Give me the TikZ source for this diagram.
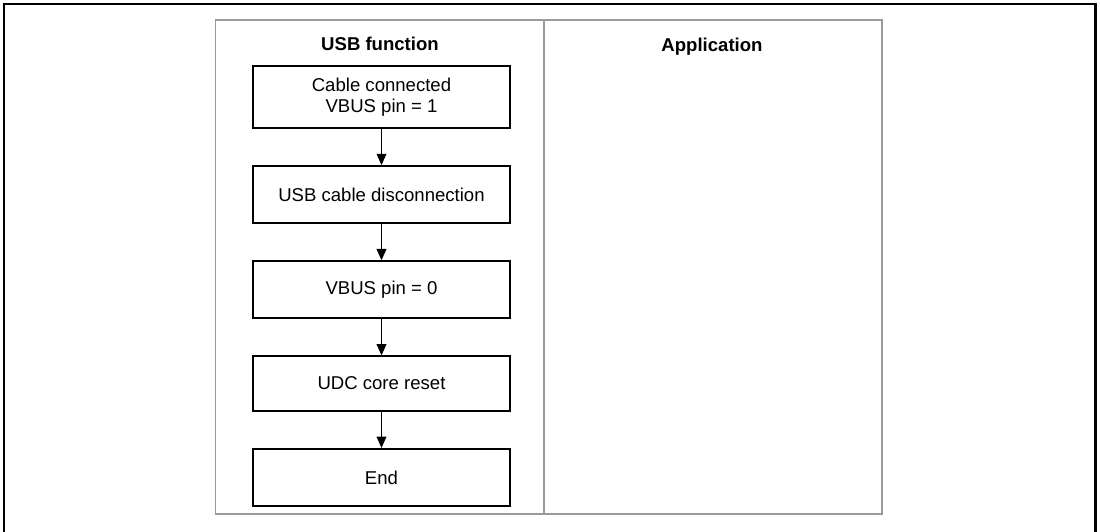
\documentclass[tikz,border=0pt]{standalone}
\usepackage{fontspec}
\setmainfont{Liberation Sans}
\usepackage{xcolor}
\usetikzlibrary{arrows.meta,positioning}

\definecolor{lanegray}{HTML}{9A9A9A}

\begin{document}
\begin{tikzpicture}[
  x=0.025cm, y=-0.025cm,
  node distance=0.9cm and 1cm,
  stepbox/.style={rectangle, draw=black, line width=1.5pt,
              minimum width=6.42cm, minimum height=1.425cm,
              text centered, align=center,
              font=\fontsize{13.2}{15}\selectfont},
  lane/.style={draw=lanegray, line width=1.4pt},
  title/.style={font=\fontsize{13.2}{15}\selectfont\bfseries},
  arr/.style={-{Triangle[length=8pt, width=7pt]}, line width=0.7pt}
]
\useasboundingbox (0,0) rectangle (1100,532);
% outer frame
\draw[line width=1.5pt] (4,532) -- (4,4) -- (1095.5,4) -- (1095.5,532);

% swimlanes
\draw[lane] (215.5,20) rectangle (882,514);
\draw[lane] (544,20) -- (544,514);
\node[title] (usbhead) at (380,44) {USB function};
\node[title] (apphead) at (712,47) {Application};

% flow
\node[stepbox, minimum height=1.55cm] (connected) at (381.5,97)
      {Cable connected\\VBUS pin = 1};
\node[stepbox, below=of connected] (disconnect) {USB cable disconnection};
\node[stepbox, below=of disconnect] (vbuslow)    {VBUS pin = 0};
\node[stepbox, below=of vbuslow, minimum height=1.36cm] (udcreset) {UDC core reset};
\node[stepbox, below=of udcreset]   (finish)     {End};

\draw[arr] (connected)  -- (disconnect);
\draw[arr] (disconnect) -- (vbuslow);
\draw[arr] (vbuslow)    -- (udcreset);
\draw[arr] (udcreset)   -- (finish);
\end{tikzpicture}
\end{document}
